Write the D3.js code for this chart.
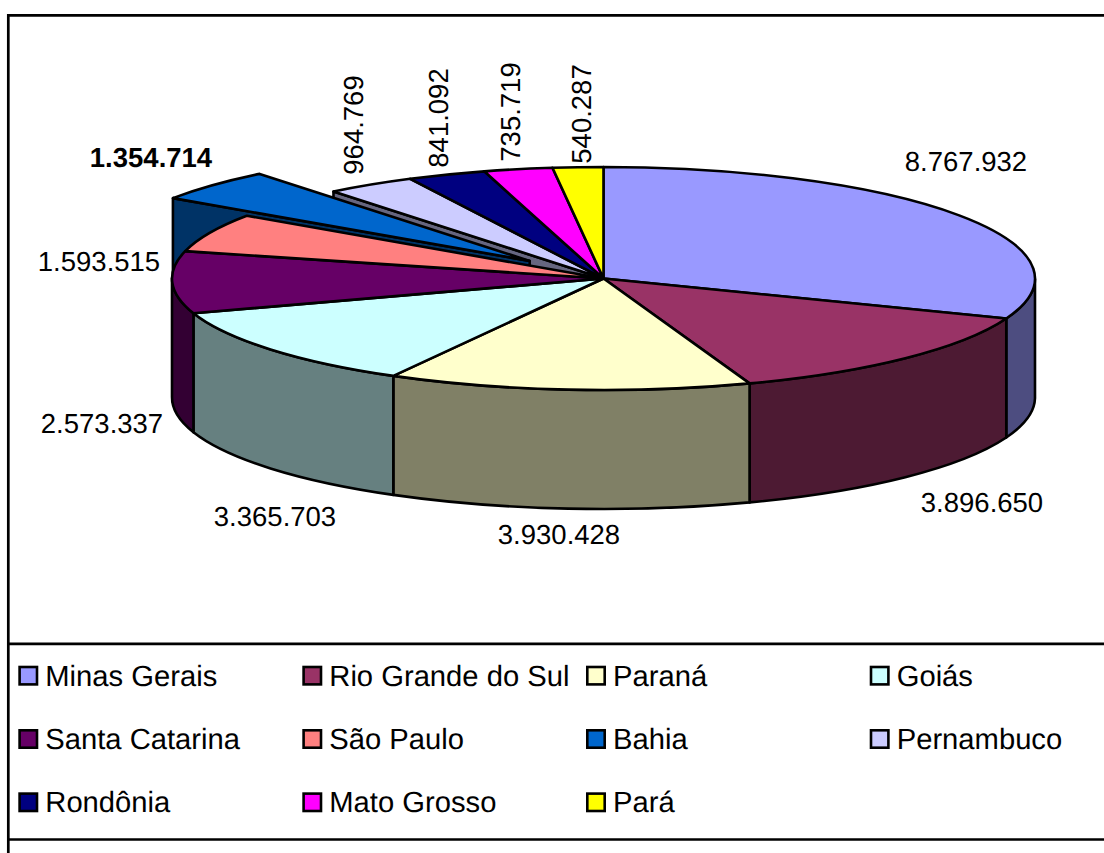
<!DOCTYPE html>
<html><head><meta charset="utf-8">
<script src="https://cdn.jsdelivr.net/npm/d3@7/dist/d3.min.js"></script>
<style>html,body{margin:0;padding:0;background:#fff}svg{display:block}text{font-family:"Liberation Sans",Arial,sans-serif;fill:#000;text-rendering:geometricPrecision}</style>
</head><body><script>
const categories = ["Minas Gerais","Rio Grande do Sul","Paraná","Goiás","Santa Catarina","São Paulo","Bahia","Pernambuco","Rondônia","Mato Grosso","Pará"];
const values = [8767932,3896650,3930428,3365703,2573337,1593515,1354714,964769,841092,735719,540287];
const valueLabels = ["8.767.932","3.896.650","3.930.428","3.365.703","2.573.337","1.593.515","1.354.714","964.769","841.092","735.719","540.287"];
const topColors = ["#9999FF","#993366","#FFFFCC","#CCFFFF","#660066","#FF8080","#0066CC","#CCCCFF","#000080","#FF00FF","#FFFF00"];
const wallColors = ["#4D4D80","#4D1A33","#808066","#668080","#330033","#804040","#003366","#666680","#000040","#800080","#808000"];
const labelX = [966,982,559,275,102,99,151,353,438,510,581];
const labelY = [161,502,534,516,423,261,157,125,118,112,114];
const labelRot = [0,0,0,0,0,0,0,-90,-90,-90,-90];
const explodedIndex = 6;
const legendCols = [0,1,2,3,0,1,2,3,0,1,2];
const legendRows = [0,0,0,0,1,1,1,1,2,2,2];

const W=1104,H=853;
const cx=603.5,cy=278.5,rx=431.5,ry=111.5,depth=119;
const explode=0.233;
const svg=d3.select("body").append("svg").attr("width",W).attr("height",H);

// frame
const frame=svg.append("g").attr("fill","none").attr("stroke","#000").attr("stroke-width",2.7);
frame.append("path").attr("d",`M8.3,853V15.3H1104`);
frame.append("path").attr("d",`M8.3,643.8H1104`);
frame.append("path").attr("d",`M8.3,839.5H1104`);

const pie=d3.pie().sort(null)(values);
// slight perspective correction of the drawn angle
const warpOffset=d3.scaleLinear().domain([0,1.9,2.8,3.65,4.39,2*Math.PI]).range([0,0.009,0.0105,0,0.005,0]);
const warp=a=>a+warpOffset(a);
const X=a=>rx*Math.sin(warp(a)), Y=a=>-ry*Math.cos(warp(a));
const off=d=>{
  if(d.index!==explodedIndex) return [0,0];
  const m=(d.startAngle+d.endAngle)/2;
  return [X(m)*explode,Y(m)*explode];
};
const arcSeg=(a0,a1,dy=0,ox=0,oy=0,rev=false)=>{
  const large=Math.abs(a1-a0)>Math.PI?1:0;
  const sweep=rev?0:1;
  return `A${rx},${ry} 0 ${large} ${sweep} ${cx+ox+X(a1)},${cy+oy+Y(a1)+dy}`;
};
const topPath=d=>{
  const [ox,oy]=off(d);
  return `M${cx+ox},${cy+oy}L${cx+ox+X(d.startAngle)},${cy+oy+Y(d.startAngle)}`+arcSeg(d.startAngle,d.endAngle,0,ox,oy)+"Z";
};
const wallPath=d=>{
  const a0=Math.max(d.startAngle,Math.PI/2),a1=Math.min(d.endAngle,3*Math.PI/2);
  if(a0>=a1) return null;
  const [ox,oy]=off(d);
  return `M${cx+ox+X(a0)},${cy+oy+Y(a0)}`+arcSeg(a0,a1,0,ox,oy)+
    `L${cx+ox+X(a1)},${cy+oy+Y(a1)+depth}`+arcSeg(a1,a0,depth,ox,oy,true)+"Z";
};
const cutPath=(d,a)=>{
  const [ox,oy]=off(d);
  return `M${cx+ox},${cy+oy}L${cx+ox+X(a)},${cy+oy+Y(a)}v${depth}L${cx+ox},${cy+oy+depth}Z`;
};
const pieG=svg.append("g").attr("stroke","#000").attr("stroke-width",2.6).attr("stroke-linejoin","round");
const ex=pie[explodedIndex], nxt=pie[explodedIndex+1];
pieG.append("path").attr("d",cutPath(nxt,nxt.startAngle)).attr("fill",wallColors[explodedIndex+1]);
pieG.append("path").attr("d",cutPath(ex,ex.startAngle)).attr("fill",wallColors[explodedIndex]);
pieG.append("path").attr("d",topPath(ex)).attr("fill",topColors[explodedIndex]);
pie.filter(d=>d.index!==explodedIndex).forEach(d=>{
  const w=wallPath(d);
  if(w) pieG.append("path").attr("d",w).attr("fill",wallColors[d.index]);
});
pieG.selectAll("path.top").data(pie.filter(d=>d.index!==explodedIndex)).join("path")
  .attr("class","top").attr("d",topPath).attr("fill",d=>topColors[d.index]);

// value labels
svg.append("g").selectAll("text").data(valueLabels).join("text")
  .attr("text-anchor","middle")
  .attr("font-size",27.5)
  .attr("font-weight",(d,i)=>i===explodedIndex?"bold":"normal")
  .attr("transform",(d,i)=>`translate(${labelX[i]},${labelY[i]}) rotate(${labelRot[i]})`)
  .attr("dy","0.36em")
  .text(d=>d);

// legend
const colX=d3.scaleOrdinal().domain([0,1,2,3]).range([28.3,312.3,596,879.7]);
const rowY=d3.scaleOrdinal().domain([0,1,2]).range([675.7,739,802.3]);
const lg=svg.append("g").selectAll("g").data(categories).join("g")
  .attr("transform",(d,i)=>`translate(${colX(legendCols[i])},${rowY(legendRows[i])})`);
lg.append("rect").attr("x",-8.7).attr("y",-8.7).attr("width",17.4).attr("height",17.4)
  .attr("fill",(d,i)=>topColors[i]).attr("stroke","#000").attr("stroke-width",2.6);
lg.append("text").attr("x",17).attr("y",9.8).attr("font-size",29.2).text(d=>d);
</script></body></html>
